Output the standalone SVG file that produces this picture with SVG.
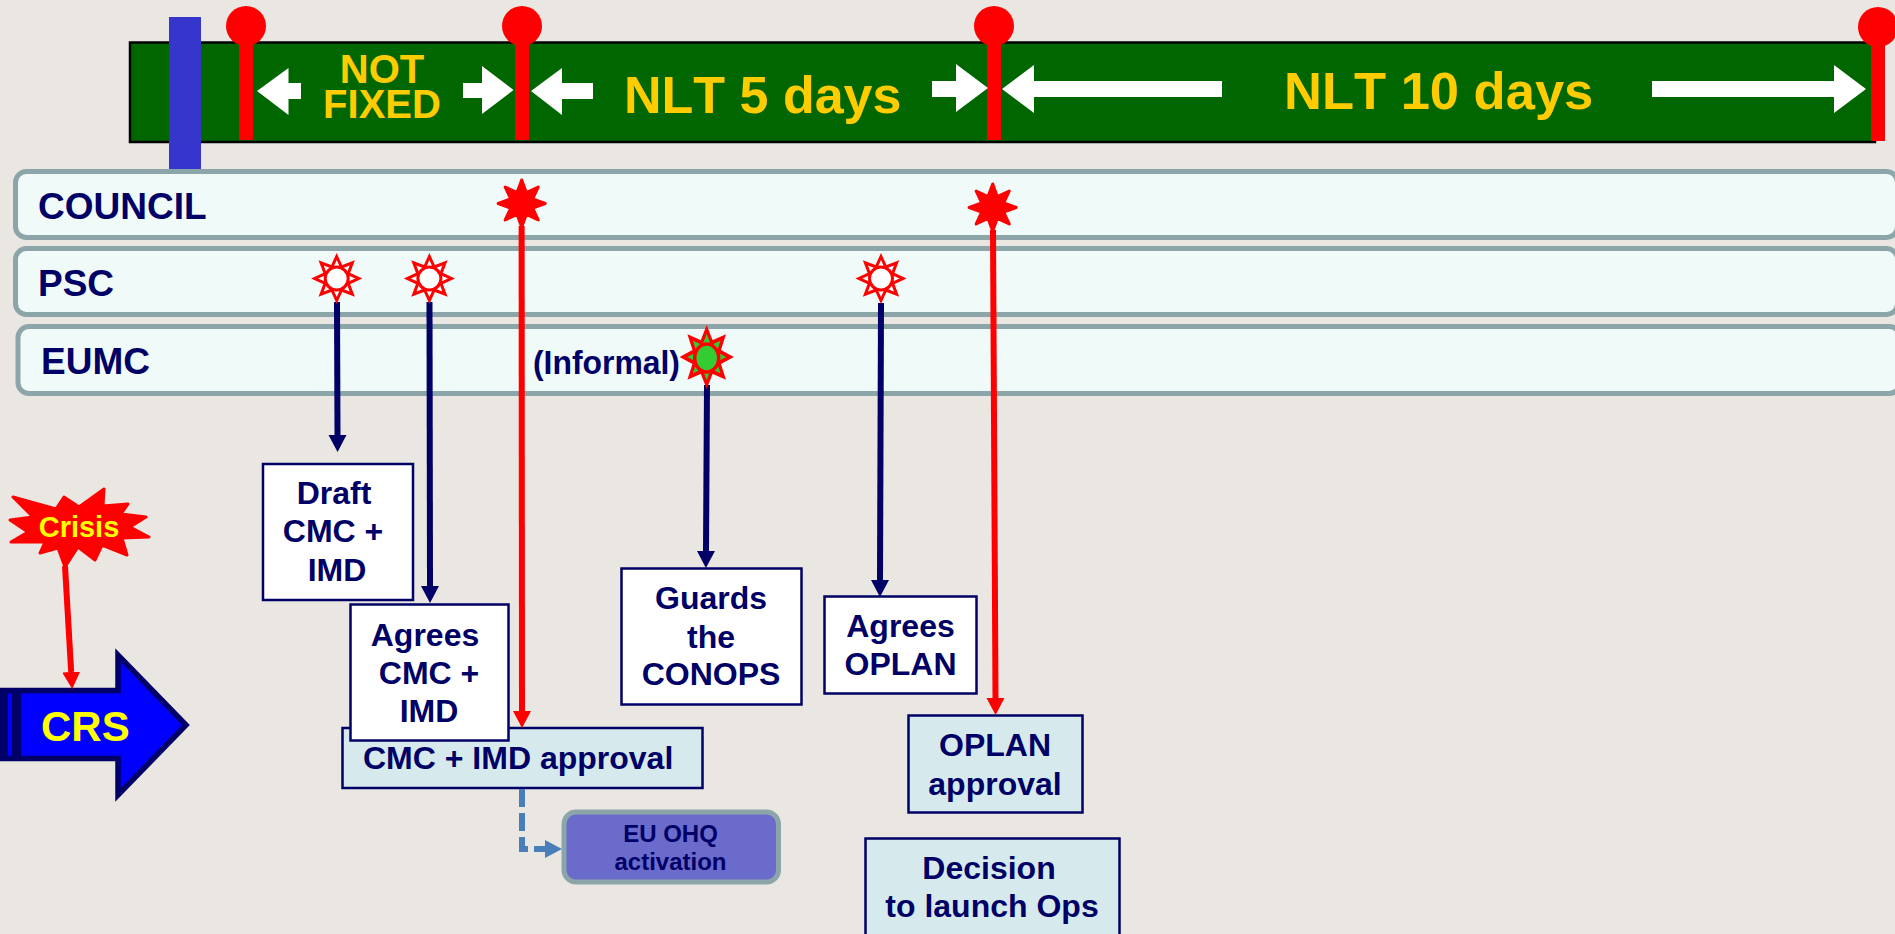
<svg xmlns="http://www.w3.org/2000/svg" xmlns:xlink="http://www.w3.org/1999/xlink" width="1895" height="934" viewBox="0 0 1895 934">
<style>
text{font-family:"Liberation Sans",Arial,sans-serif;font-weight:700;fill:#000066;font-kerning:none}
.m{text-anchor:middle}
.gold{fill:#FFCC00}
.yel{fill:#FFFF00}
.band{fill:#F0FAF8;stroke:#8BA5A8;stroke-width:5}
.lane{font-size:37px}
.box{font-size:32px}
.bw{fill:#fff;stroke:#000066;stroke-width:2.5}
.bl{fill:#D6EAEE;stroke:#000066;stroke-width:2.5}
.wa{fill:#fff}
.stem{fill:#f00}
.nav{fill:none;stroke:#000066;stroke-width:6;marker-end:url(#hn)}
.red{fill:none;stroke:#f00;stroke-width:6;marker-end:url(#hr)}
.solid{fill:#f00;stroke:#f00;stroke-width:3;stroke-linejoin:round}
.hollow{fill:#fff;stroke:#f00;stroke-width:3}
.ring{fill:#fff;stroke:#f00;stroke-width:3}
</style>
<defs>
<marker id="hn" markerUnits="userSpaceOnUse" markerWidth="18" markerHeight="20" refX="0" refY="10" orient="auto"><path d="M0,1 L17,10 L0,19 z" fill="#000066"/></marker>
<marker id="hr" markerUnits="userSpaceOnUse" markerWidth="18" markerHeight="20" refX="0" refY="10" orient="auto"><path d="M0,1 L17,10 L0,19 z" fill="#f00"/></marker>
<marker id="hb" markerUnits="userSpaceOnUse" markerWidth="18" markerHeight="20" refX="0" refY="10" orient="auto"><path d="M0,1 L17,10 L0,19 z" fill="#4A7EBB"/></marker>
<polygon id="s8" points="0,-23.500 4.600,-11 16.500,-16.500 11,-4.600 23.500,0 11,4.600 16.500,16.500 4.600,11 0,23.500 -4.600,11 -16.500,16.500 -11,4.600 -23.500,0 -11,-4.600 -16.500,-16.500 -4.600,-11"/>
<polygon id="h8" points="0,-22 4.800,-11.500 15.600,-15.600 11.500,-4.800 22,0 11.500,4.800 15.600,15.600 4.800,11.500 0,22 -4.800,11.500 -15.600,15.600 -11.500,4.800 -22,0 -11.500,-4.800 -15.600,-15.600 -4.800,-11.500"/>
<g id="pin"><ellipse cx="0" cy="0" rx="20" ry="20" fill="#f00"/><rect class="stem" x="-7" y="10" width="14" height="104"/></g>
</defs>
<rect width="1895" height="934" fill="#EAE7E2"/>

<g id="timeline">
<rect x="130" y="42.500" width="1745" height="99.500" fill="#006600" stroke="#000" stroke-width="2.500"/>
<rect x="169" y="17" width="32" height="152" fill="#3636CC"/>
<use xlink:href="#pin" x="246" y="26"/>
<use xlink:href="#pin" x="522" y="26"/>
<use xlink:href="#pin" x="994" y="26"/>
<use xlink:href="#pin" x="1878" y="27"/>
<polygon class="wa" points="257,91 288.500,68 288.500,83 301,83 301,99 288.500,99 288.500,115"/>
<polygon class="wa" points="463,83 482,83 482,66 513.500,90 482,114 482,98 463,98"/>
<polygon class="wa" points="531,91 562,68 562,83 593,83 593,99 562,99 562,115"/>
<polygon class="wa" points="932,81 956,81 956,64 988,88 956,112 956,97 932,97"/>
<polygon class="wa" points="1002,89 1034,65 1034,81 1222,81 1222,97 1034,97 1034,113"/>
<polygon class="wa" points="1652,81 1834,81 1834,65 1866,89 1834,113 1834,97 1652,97"/>
<text class="m gold" font-size="40"><tspan x="382" y="83">NOT</tspan><tspan x="382" y="118">FIXED</tspan></text>
<text class="gold" x="624" y="113" font-size="52">NLT 5 days</text>
<text class="gold" x="1284" y="109" font-size="52.500">NLT 10 days</text>
</g>

<g id="council"><rect class="band" x="15.500" y="171.500" width="1882" height="66" rx="11"/><text class="lane" x="38" y="218.500">COUNCIL</text></g>
<g id="psc"><rect class="band" x="15.500" y="248.500" width="1882" height="66" rx="11"/><text class="lane" x="38" y="295.500">PSC</text></g>
<g id="eumc"><rect class="band" x="18" y="326.500" width="1882" height="67" rx="11"/><text class="lane" x="41" y="373.500">EUMC</text><text x="533" y="373.500" font-size="33" textLength="147" lengthAdjust="spacingAndGlyphs">(Informal)</text></g>

<g id="crisis-node">
<polygon fill="#f00" stroke="#f00" stroke-width="3" stroke-linejoin="round" points="13,497 56,509 64,497 79,507 104,489 103,506 128,504 121,514 146,517 130,527 149,537 122,538 127,555 102,545 95,560 78,547 65,567 58,548 40,553 45,542 11,542 28,532 10,520 33,517"/>
<text class="m yel" x="79" y="537" font-size="29">Crisis</text>
</g>
<g id="crs-node">
<polygon fill="#0000FF" stroke="#000066" stroke-width="5.500" points="-6,690.500 118,690.500 118,655 186,725 118,795 118,758.500 -6,758.500"/>
<rect x="0" y="688" width="8" height="73" fill="#000066"/>
<rect x="12" y="688" width="9" height="73" fill="#000066"/>
<text x="41" y="741" font-size="42" class="yel">CRS</text>
</g>

<g id="approval-node"><rect class="bl" x="342.500" y="728" width="360" height="60"/><text class="box" x="363" y="769">CMC + IMD approval</text></g>
<g id="draft-node"><rect class="bw" x="263" y="464" width="150" height="136"/><g class="box"><text class="m" x="334" y="504">Draft</text><text class="m" x="333" y="542">CMC +</text><text class="m" x="337" y="581">IMD</text></g></g>
<g id="agrees-cmc-node"><rect class="bw" x="350.500" y="604.500" width="158" height="136"/><g class="box"><text class="m" x="425" y="646">Agrees</text><text class="m" x="429" y="684">CMC +</text><text class="m" x="429" y="722">IMD</text></g></g>
<g id="guards-node"><rect class="bw" x="621.500" y="568.500" width="180" height="136"/><g class="box"><text class="m" x="711" y="608.500">Guards</text><text class="m" x="711" y="648">the</text><text class="m" x="711" y="685">CONOPS</text></g></g>
<g id="agrees-oplan-node"><rect class="bw" x="824.500" y="596.500" width="152" height="97"/><g class="box"><text class="m" x="900.500" y="637">Agrees</text><text class="m" x="900.500" y="675">OPLAN</text></g></g>
<g id="oplan-approval-node"><rect class="bl" x="908.500" y="715.500" width="174" height="97"/><g class="box"><text class="m" x="995" y="755.500">OPLAN</text><text class="m" x="995" y="795">approval</text></g></g>
<g id="decision-node"><rect class="bl" x="865.500" y="838.500" width="254" height="110"/><g class="box"><text class="m" x="989" y="879">Decision</text><text class="m" x="992" y="917">to launch Ops</text></g></g>
<g id="ohq-node"><rect x="564" y="812" width="214.500" height="70" rx="12" fill="#6B6BCC" stroke="#8BA5A8" stroke-width="5"/><text class="m" x="670.500" y="841.500" font-size="24">EU OHQ</text><text class="m" x="670.500" y="870" font-size="24">activation</text></g>

<g id="connectors">
<path class="red" d="M65,566 L71.200,672"/>
<path class="nav" d="M337,302 L337.500,435"/>
<path class="nav" d="M429.500,302 L430,586"/>
<path class="nav" d="M707,385 L706,551"/>
<path class="nav" d="M881,303 L880,580"/>
<path class="red" d="M521.600,226 L522,711"/>
<path class="red" d="M993,230 L995.500,698"/>
<path fill="none" stroke="#4A7EBB" stroke-width="6" stroke-dasharray="18,6" marker-end="url(#hb)" d="M522,789 L522,849 L545,849"/>
</g>

<g id="star-council-1"><use xlink:href="#s8" class="solid" x="521.700" y="203.500"/></g>
<g id="star-council-2"><use xlink:href="#s8" class="solid" x="992.700" y="207.500"/></g>
<g id="star-psc-1"><use xlink:href="#h8" class="hollow" x="336.700" y="278.500"/><circle class="ring" cx="336.700" cy="278.500" r="11.500"/></g>
<g id="star-psc-2"><use xlink:href="#h8" class="hollow" x="429.400" y="278.500"/><circle class="ring" cx="429.400" cy="278.500" r="11.500"/></g>
<g id="star-psc-3"><use xlink:href="#h8" class="hollow" x="881" y="278.500"/><circle class="ring" cx="881" cy="278.500" r="11.500"/></g>
<g id="star-eumc"><use xlink:href="#h8" transform="translate(706.700 357) scale(1.06 1.25)" fill="#33CC33" stroke="#f00" stroke-width="3"/><ellipse cx="706.700" cy="358" rx="12" ry="14" fill="#33CC33" stroke="#f00" stroke-width="3.500"/></g>
</svg>
